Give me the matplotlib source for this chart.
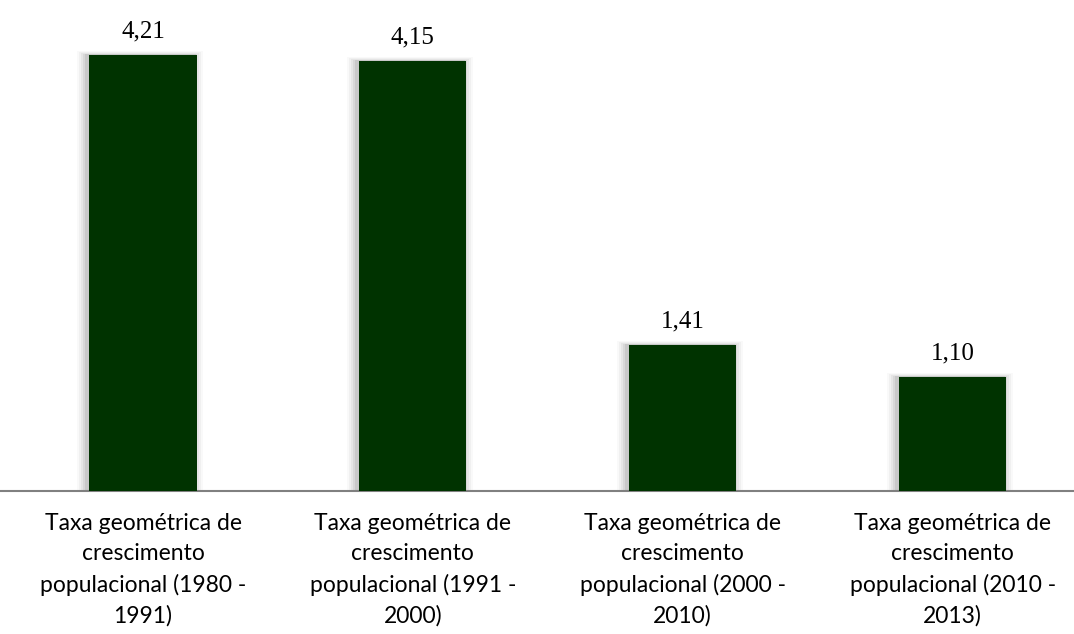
import matplotlib
matplotlib.use('Agg')
import matplotlib.pyplot as plt

# dados
categorias = [
    'Taxa geométrica de\ncrescimento\npopulacional (1980 -\n1991)',
    'Taxa geométrica de\ncrescimento\npopulacional (1991 -\n2000)',
    'Taxa geométrica de\ncrescimento\npopulacional (2000 -\n2010)',
    'Taxa geométrica de\ncrescimento\npopulacional (2010 -\n2013)',
]
valores = [4.21, 4.15, 1.41, 1.10]
rotulos = ['4,21', '4,15', '1,41', '1,10']

fig = plt.figure(figsize=(10.74, 6.34), dpi=100)
ax = fig.add_axes([0, 0.2256, 1, 0.7744])

x = list(range(len(valores)))
largura = 0.397

# sombra suave
for k, a in zip([0.07, 0.055, 0.04, 0.025, 0.012], [0.025, 0.035, 0.045, 0.055, 0.065]):
    ax.bar([i - 0.01 for i in x], [v + k * 0.5 for v in valores], width=largura + k,
           color='black', alpha=a, zorder=1, linewidth=0)

ax.bar(x, valores, width=largura, color='#003300', zorder=3, linewidth=0)

for i, (v, r) in enumerate(zip(valores, rotulos)):
    ax.text(i, v + 0.12, r, ha='center', va='bottom', fontsize=18,
            family='Liberation Serif', color='#000000')

ax.set_xlim(-0.53, 3.45)
ax.set_ylim(0, 4.74)
ax.set_xticks(x)
ax.set_xticklabels(categorias, family='Lato', fontsize=16.5, linespacing=1.52)
ax.tick_params(axis='x', length=0, pad=16)
ax.set_yticks([])
for lado in ['top', 'right', 'left']:
    ax.spines[lado].set_visible(False)
ax.spines['bottom'].set_color('#808080')
ax.spines['bottom'].set_linewidth(1.5)

fig.savefig('out.png', dpi=100)
